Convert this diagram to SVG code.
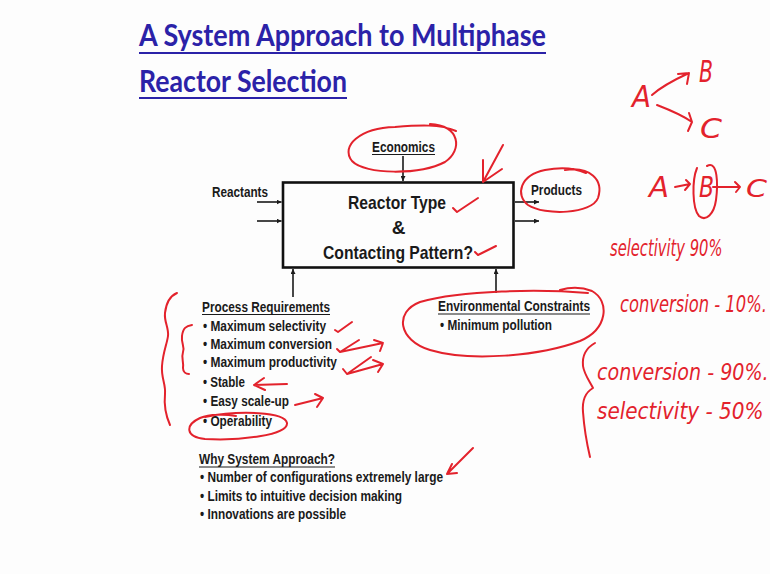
<svg xmlns="http://www.w3.org/2000/svg" width="770" height="574" viewBox="0 0 770 574">
  <defs>
    <marker id="arr" viewBox="0 0 10 10" refX="10" refY="5" markerWidth="5" markerHeight="5" orient="auto" markerUnits="userSpaceOnUse">
      <path d="M0,0 L10,5 L0,10 Z" fill="#1c1c1c"/>
    </marker>
    <style>
      .title { font-family: Lato, "Open Sans", sans-serif; font-weight: 700; font-size: 31px; fill: #2b22a8; }
      .tline { stroke: #2b22a8; stroke-width: 2; }
      .t { font-family: "Liberation Sans", Arial, sans-serif; font-weight: 700; fill: #1a1a1a; }
      .lbl { font-size: 15px; }
      .box { font-size: 19px; }
      .item { font-size: 15.5px; }
      .ul { stroke: #1a1a1a; stroke-width: 1.2; }
      .conn { stroke: #1a1a1a; stroke-width: 1.6; fill: none; }
      .ink { stroke: #e3222c; stroke-width: 2; fill: none; stroke-linecap: round; stroke-linejoin: round; }
      .hand { font-family: "DejaVu Sans", sans-serif; font-style: italic; fill: #e3222c; }
    </style>
  </defs>

  <rect width="770" height="574" fill="#fdfdfd"/>

  <!-- title -->
  <g id="title">
    <text class="title" x="139" y="46" textLength="407" lengthAdjust="spacingAndGlyphs">A System Approach to Multiphase</text>
    <line class="tline" x1="139" y1="53" x2="546" y2="53"/>
    <text class="title" x="139" y="92" textLength="208" lengthAdjust="spacingAndGlyphs">Reactor Selection</text>
    <line class="tline" x1="139" y1="98" x2="347" y2="98"/>
  </g>

  <!-- central reactor block -->
  <g id="reactor">
    <rect x="283" y="182.5" width="230.5" height="85" fill="none" stroke="#111" stroke-width="2.6"/>
    <text class="t box" x="348" y="208.5" textLength="98" lengthAdjust="spacingAndGlyphs">Reactor Type</text>
    <text class="t box" x="398.5" y="233.5" text-anchor="middle">&amp;</text>
    <text class="t box" x="323" y="258.5" textLength="150" lengthAdjust="spacingAndGlyphs">Contacting Pattern?</text>
  </g>

  <g id="economics">
    <text class="t lbl" x="372" y="151.5" textLength="63" lengthAdjust="spacingAndGlyphs">Economics</text>
    <line class="ul" x1="372" y1="154.5" x2="435" y2="154.5"/>
  </g>

  <g id="reactants">
    <text class="t lbl" x="212" y="196.5" textLength="56" lengthAdjust="spacingAndGlyphs">Reactants</text>
  </g>

  <g id="products">
    <text class="t lbl" x="531" y="194.5" textLength="51" lengthAdjust="spacingAndGlyphs">Products</text>
  </g>

  <g id="process-requirements">
    <text class="t item" x="202" y="311.5" textLength="128" lengthAdjust="spacingAndGlyphs">Process Requirements</text>
    <line class="ul" x1="202" y1="314.5" x2="330" y2="314.5"/>
    <text class="t item" x="203" y="330.5" textLength="123" lengthAdjust="spacingAndGlyphs">• Maximum selectivity</text>
    <text class="t item" x="203" y="348.5" textLength="129" lengthAdjust="spacingAndGlyphs">• Maximum conversion</text>
    <text class="t item" x="203" y="367" textLength="134" lengthAdjust="spacingAndGlyphs">• Maximum productivity</text>
    <text class="t item" x="203" y="387" textLength="42" lengthAdjust="spacingAndGlyphs">• Stable</text>
    <text class="t item" x="203" y="406" textLength="86" lengthAdjust="spacingAndGlyphs">• Easy scale-up</text>
    <text class="t item" x="203" y="425.5" textLength="69" lengthAdjust="spacingAndGlyphs">• Operability</text>
  </g>

  <g id="environmental-constraints">
    <text class="t item" x="438" y="311" textLength="152" lengthAdjust="spacingAndGlyphs">Environmental Constraints</text>
    <line class="ul" x1="438" y1="314" x2="590" y2="314"/>
    <text class="t item" x="440" y="329.5" textLength="112" lengthAdjust="spacingAndGlyphs">• Minimum pollution</text>
  </g>

  <g id="why-system-approach">
    <text class="t item" x="199" y="464" textLength="136" lengthAdjust="spacingAndGlyphs">Why System Approach?</text>
    <line class="ul" x1="199" y1="467" x2="335" y2="467"/>
    <text class="t item" x="200" y="482" textLength="243" lengthAdjust="spacingAndGlyphs">• Number of configurations extremely large</text>
    <text class="t item" x="200" y="500.5" textLength="202" lengthAdjust="spacingAndGlyphs">• Limits to intuitive decision making</text>
    <text class="t item" x="200" y="519" textLength="146" lengthAdjust="spacingAndGlyphs">• Innovations are possible</text>
  </g>

  <!-- flows into and out of the reactor block -->
  <g id="connectors">
    <line class="conn" x1="403" y1="156" x2="403" y2="181" marker-end="url(#arr)"/>
    <line class="conn" x1="257" y1="202" x2="281.5" y2="202" marker-end="url(#arr)"/>
    <line class="conn" x1="257" y1="221" x2="281.5" y2="221" marker-end="url(#arr)"/>
    <line class="conn" x1="515" y1="202" x2="539" y2="202" marker-end="url(#arr)"/>
    <line class="conn" x1="515" y1="221" x2="539" y2="221" marker-end="url(#arr)"/>
    <line class="conn" x1="293" y1="297" x2="293" y2="269" marker-end="url(#arr)"/>
    <line class="conn" x1="496" y1="293" x2="496" y2="269" marker-end="url(#arr)"/>
  </g>

  <!-- red pen annotations -->
  <g id="annotations">
    <!-- loops around Economics, Products, Environmental Constraints, Operability -->
    <path class="ink" d="M430 124 C460 125 463 150 445 162 C420 175 365 175 352 161 C340 146 360 128 395 127 C420 125 440 124 456 131"/>
    <path class="ink" d="M565 170 C590 166 604 180 598 198 C592 214 545 216 528 205 C515 195 520 175 545 170 C560 167 575 168 586 173"/>
    <path class="ink" d="M588 293 C540 289 462 290 420 302 C394 312 398 340 430 350 C470 362 540 356 580 341 C608 329 610 301 592 291 C582 287 570 287 560 290"/>
    <path class="ink" d="M205 417 C240 410 285 412 287 423 C288 435 240 441 205 439 C185 437 185 425 200 418 C210 414 225 414 236 416"/>

    <!-- arrow towards the block corner -->
    <path class="ink" d="M503 145 L483 182 M483 160 L483 182 L502 169"/>

    <!-- ticks -->
    <path class="ink" d="M453 208 L457 212 L478 198"/>
    <path class="ink" d="M475 252 L478 255 L496 246"/>
    <path class="ink" d="M335 330 L338 332 L352 322"/>
    <path class="ink" d="M337 349 L340 352 L359 340 M340 352 L383 343 M374 340 L383 343 L380 351"/>
    <path class="ink" d="M343 369 L347 374 L371 357 M347 374 L383 364 M373 360 L383 364 L378 372"/>

    <!-- arrows beside Stable and Easy scale-up -->
    <path class="ink" d="M287 384 L254 385 M264 378 L254 385 L265 390"/>
    <path class="ink" d="M295 405 L323 398 M315 394 L323 398 L317 407"/>

    <!-- arrow beside first reason -->
    <path class="ink" d="M473 448 L447 474 M452 464 L447 474 L457 473"/>

    <!-- braces on the left of the requirement list -->
    <path class="ink" d="M177 293 C170 296 166 304 165 313 C164 322 169 328 168 336 C167 344 163 352 162 366 C161 378 166 384 165 394 C164 404 166 416 170 425"/>
    <path class="ink" d="M192 325 C186 326 183 328 182 336 C181 344 185 346 183 352 C181 358 184 362 183 368 C183 372 186 374 189 374"/>

    <!-- reaction schemes -->
    <text class="hand" x="632" y="107" font-size="30" textLength="19" lengthAdjust="spacingAndGlyphs">A</text>
    <text class="hand" x="699" y="82" font-size="30" textLength="14" lengthAdjust="spacingAndGlyphs">B</text>
    <text class="hand" x="700" y="138" font-size="26" textLength="22" lengthAdjust="spacingAndGlyphs">C</text>
    <path class="ink" d="M652 95 C662 86 676 79 689 73 M678 74 L689 73 L687 84"/>
    <path class="ink" d="M657 105 C670 110 682 115 692 122 M689 113 L692 122 L688 131"/>

    <text class="hand" x="649" y="197" font-size="28" textLength="20" lengthAdjust="spacingAndGlyphs">A</text>
    <text class="hand" x="699" y="197" font-size="28" textLength="15" lengthAdjust="spacingAndGlyphs">B</text>
    <text class="hand" x="746" y="197" font-size="24" textLength="21" lengthAdjust="spacingAndGlyphs">C</text>
    <path class="ink" d="M675 187 L690 184 M686 180 L690 184 L685 190"/>
    <path class="ink" d="M707 166 C718 160 718 185 716 200 C714 214 706 222 699 216 C692 208 692 180 697 168"/>
    <path class="ink" d="M713 187 L740 187 M735 182 L740 187 L736 192"/>

    <!-- selectivity / conversion notes (horizontally squeezed handwriting) -->
    <text class="hand" font-size="23" transform="translate(610 256) scale(0.64 1)">selectivity 90%</text>
    <text class="hand" font-size="23" transform="translate(620 312) scale(0.71 1)">conversion - 10%.</text>
    <path class="ink" d="M595 343 C586 348 582 356 583 366 C584 374 590 382 593 388 C586 392 582 400 583 412 C584 426 586 440 590 457"/>
    <text class="hand" font-size="23" transform="translate(597 380) scale(0.83 1)">conversion - 90%.</text>
    <text class="hand" font-size="23" transform="translate(597 419) scale(0.87 1)">selectivity - 50%</text>
  </g>
</svg>
